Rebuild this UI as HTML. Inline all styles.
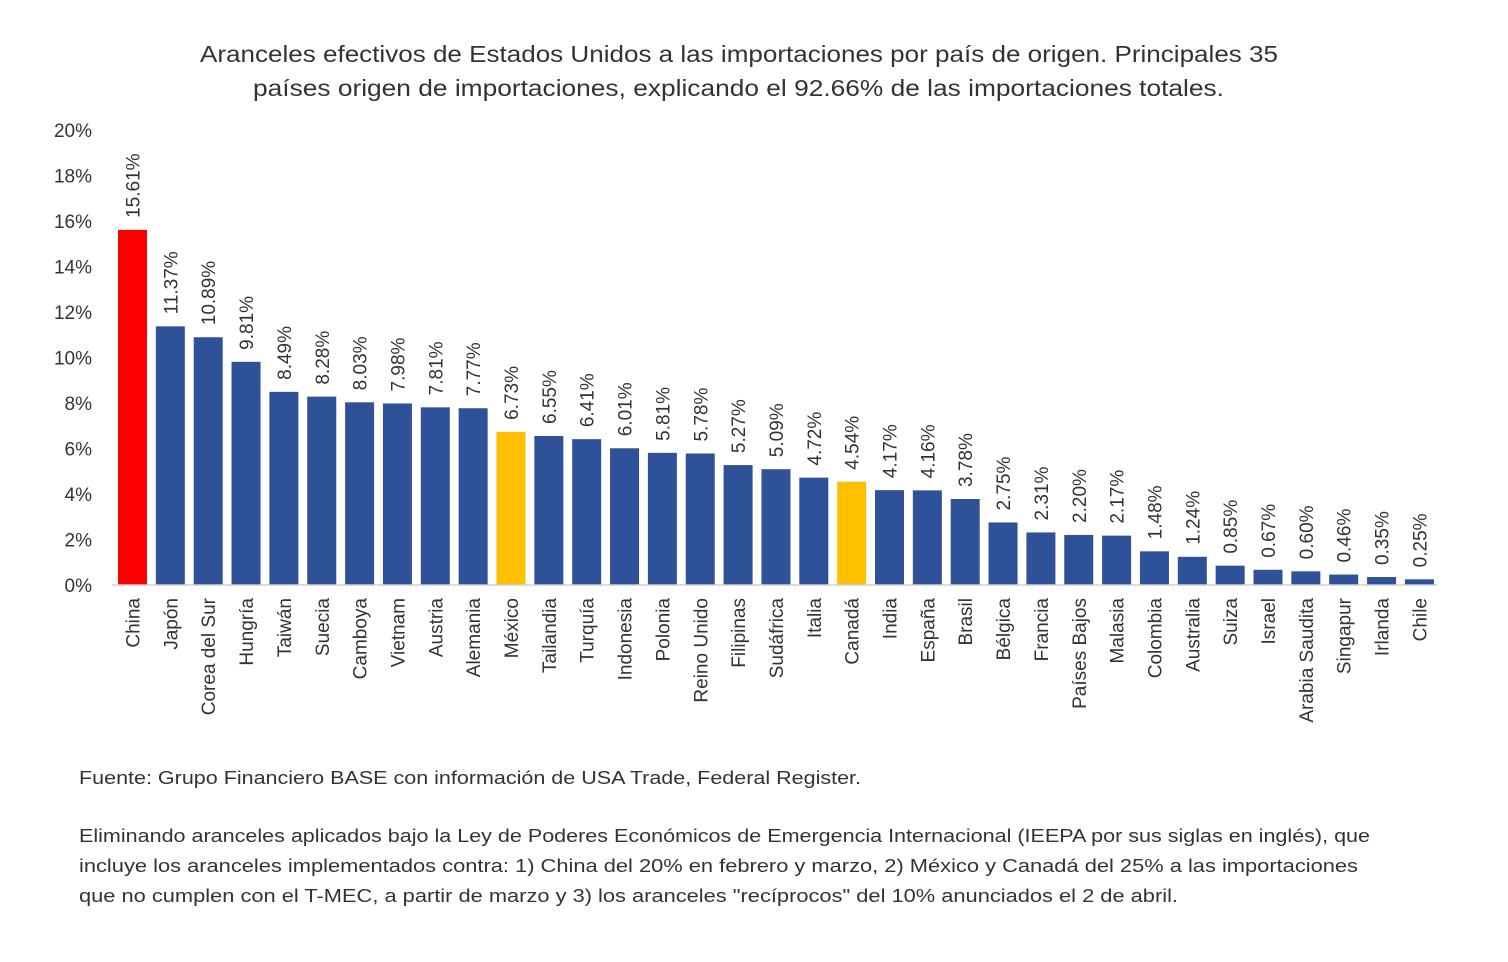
<!DOCTYPE html>
<html><head><meta charset="utf-8"><style>
body{margin:0;background:#fff;width:1508px;height:962px;overflow:hidden;font-family:"Liberation Sans",sans-serif;}
svg text{font-family:"Liberation Sans",sans-serif;fill:#333;}
</style></head><body>
<svg width="1508" height="962" style="position:absolute;left:0;top:0">
<text x="200" y="62" font-size="23" textLength="1078" lengthAdjust="spacingAndGlyphs">Aranceles efectivos de Estados Unidos a las importaciones por país de origen. Principales 35</text>
<text x="253" y="96" font-size="23" textLength="971" lengthAdjust="spacingAndGlyphs">países origen de importaciones, explicando el 92.66% de las importaciones totales.</text>
<g id="yaxis"></g>
<g id="bars"></g>
<line x1="112" y1="585" x2="1437" y2="585" stroke="#d0d0d0" stroke-width="1.5"/>
<g font-size="18" fill="#222">
<text x="79" y="784" textLength="782" lengthAdjust="spacingAndGlyphs">Fuente: Grupo Financiero BASE con información de USA Trade, Federal Register.</text>
<text x="79" y="842" textLength="1291" lengthAdjust="spacingAndGlyphs">Eliminando aranceles aplicados bajo la Ley de Poderes Económicos de Emergencia Internacional (IEEPA por sus siglas en inglés), que</text>
<text x="79" y="872" textLength="1279" lengthAdjust="spacingAndGlyphs">incluye los aranceles implementados contra: 1) China del 20% en febrero y marzo, 2) México y Canadá del 25% a las importaciones</text>
<text x="79" y="902" textLength="1099" lengthAdjust="spacingAndGlyphs">que no cumplen con el T-MEC, a partir de marzo y 3) los aranceles "recíprocos" del 10% anunciados el 2 de abril.</text>
</g>
</svg>
<script>
const categories=["China","Japón","Corea del Sur","Hungría","Taiwán","Suecia","Camboya","Vietnam","Austria","Alemania","México","Tailandia","Turquía","Indonesia","Polonia","Reino Unido","Filipinas","Sudáfrica","Italia","Canadá","India","España","Brasil","Bélgica","Francia","Países Bajos","Malasia","Colombia","Australia","Suiza","Israel","Arabia Saudita","Singapur","Irlanda","Chile"];
const values=[15.61,11.37,10.89,9.81,8.49,8.28,8.03,7.98,7.81,7.77,6.73,6.55,6.41,6.01,5.81,5.78,5.27,5.09,4.72,4.54,4.17,4.16,3.78,2.75,2.31,2.20,2.17,1.48,1.24,0.85,0.67,0.60,0.46,0.35,0.25];
const yTicks=[0,2,4,6,8,10,12,14,16,18,20];
const NS="http://www.w3.org/2000/svg";
const y0=585,pxPer=22.75,x0=132.5,step=37.85,bw=29;
const yScale=v=>y0-v*pxPer;
const xScale=i=>x0+i*step;
const ya=document.getElementById('yaxis');
yTicks.forEach(t=>{const e=document.createElementNS(NS,'text');


e.setAttribute('x',92);e.setAttribute('y',yScale(t)+7);e.setAttribute('text-anchor','end');e.setAttribute('font-size','19');e.textContent=t+'%';ya.appendChild(e);});
const g=document.getElementById('bars');
categories.forEach((c,i)=>{const v=values[i],cx=xScale(i);
const col=c==="China"?"#ff0000":(c==="México"||c==="Canadá")?"#ffc000":"#2f5197";
const r=document.createElementNS(NS,'rect');


r.setAttribute('x',cx-bw/2);r.setAttribute('y',yScale(v));r.setAttribute('width',bw);r.setAttribute('height',v*pxPer);r.setAttribute('fill',col);g.appendChild(r);
const vl=document.createElementNS(NS,'text');


vl.setAttribute('transform',`translate(${cx+7},${yScale(v)-12}) rotate(-90)`);vl.setAttribute('font-size','19');vl.textContent=v.toFixed(2)+'%';g.appendChild(vl);
const cl=document.createElementNS(NS,'text');


cl.setAttribute('transform',`translate(${cx+7},598) rotate(-90)`);cl.setAttribute('text-anchor','end');cl.setAttribute('font-size','19');cl.textContent=c;g.appendChild(cl);});
</script>
</body></html>
